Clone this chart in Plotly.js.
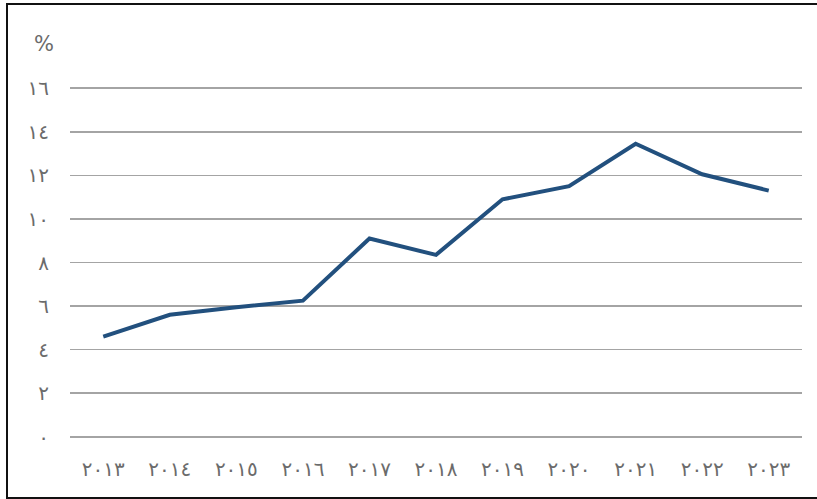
<!DOCTYPE html>
<html>
<head>
<meta charset="utf-8">
<script src="https://cdn.plot.ly/plotly-3.0.1.min.js"></script>
<style>
  html, body { margin: 0; padding: 0; background: #fff; }
  #chart { position: absolute; left: 0; top: 0; width: 817px; height: 499px; }
  #frame { position: absolute; left: 6px; top: 3px; width: 830px; height: 492px;
           border-left: 2px solid #111; border-top: 2px solid #111; border-bottom: 2px solid #111;
           pointer-events: none; }
</style>
</head>
<body>
<div id="chart"></div>
<div id="frame"></div>
<script>
const years = ["٢٠١٣","٢٠١٤","٢٠١٥","٢٠١٦","٢٠١٧","٢٠١٨","٢٠١٩","٢٠٢٠","٢٠٢١","٢٠٢٢","٢٠٢٣"];
const values = [4.6, 5.6, 5.95, 6.25, 9.1, 8.35, 10.9, 11.5, 13.45, 12.05, 11.3];
const yTickVals = [0, 2, 4, 6, 8, 10, 12, 14, 16];
const yTickText = ["٠","٢","٤","٦","٨","١٠","١٢","١٤","١٦"];
const unitLabel = "%";

const tickFont = { family: "DejaVu Sans, sans-serif", size: 20, color: "#6b6b6b" };

Plotly.newPlot("chart", [{
  type: "scatter",
  mode: "lines",
  x: years,
  y: values,
  line: { color: "#22507e", width: 4 },
  hoverinfo: "skip"
}], {
  width: 817,
  height: 499,
  margin: { l: 70, r: 15, t: 86, b: 60 },
  paper_bgcolor: "#fff",
  plot_bgcolor: "#fff",
  showlegend: false,
  xaxis: {
    type: "category",
    range: [-0.5, 10.5],
    showgrid: false,
    zeroline: false,
    showline: false,
    ticks: "",
    tickfont: tickFont,
    ticklabelstandoff: 16
  },
  yaxis: {
    range: [-0.1, 16.1],
    tickvals: yTickVals,
    ticktext: yTickText,
    showgrid: true,
    gridcolor: "#a4a4a4",
    gridwidth: 1.6,
    zeroline: false,
    showline: false,
    ticks: "",
    tickfont: tickFont,
    ticklabelstandoff: 20
  },
  annotations: [{
    text: unitLabel,
    xref: "paper", yref: "paper",
    x: -0.035, y: 1.12,
    xanchor: "center", yanchor: "middle",
    showarrow: false,
    font: { family: "DejaVu Sans, sans-serif", size: 21, color: "#6b6b6b" }
  }]
}, { displayModeBar: false, staticPlot: true });
</script>
</body>
</html>
